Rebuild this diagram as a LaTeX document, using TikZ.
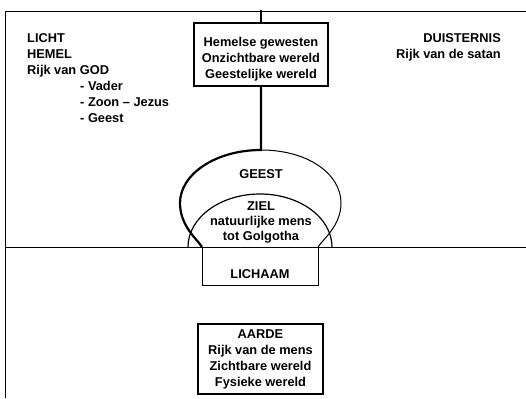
\documentclass[tikz,border=0pt]{standalone}
\usepackage{fontspec}
\setmainfont{Liberation Sans}
\usetikzlibrary{positioning}
\tikzstyle{every node}=[font=\fontsize{12.8}{16}\selectfont\bfseries,inner sep=0pt]

\begin{document}
\begin{tikzpicture}[x=1pt,y=-1pt]
\tikzset{dun/.style={line width=1pt},dik/.style={line width=2.2pt},
  kader/.style={draw,rectangle,align=center}}
\useasboundingbox (0,0) rectangle (526,398);

% rand en horizon
\draw[dun] (5,398) -- (5,12) -- (526,12);
\draw[dun] (5,247) -- (526,247);

% teksten links en rechts
\node[anchor=north west,align=left] (licht) at (27,33) {LICHT\\HEMEL\\Rijk van GOD};
\node[align=left,below right=4.3pt and 53pt of licht.south west] (drieeenheid)
  {- Vader\\- Zoon -- Jezus\\- Geest};
\node[anchor=north east,align=right] (duisternis) at (501,33) {DUISTERNIS\\Rijk van de satan};

% hemel
\node[kader,line width=1.8pt,minimum width=134pt,minimum height=63pt] (hemel) at (261,54.5)
  {\rule{0pt}{19pt}Hemelse gewesten\\Onzichtbare wereld\\Geestelijke wereld};
\coordinate (boven) at (261,10);
\coordinate (koepel) at (261,150);
\coordinate (zl) at (202,247);
\coordinate (zr) at (318,247);
\coordinate (lichaamzw) at (202,285);

\draw[dik] (boven) -- (hemel.north);
\draw[dik] (hemel.south) -- (koepel) .. controls (216,150) and (180,174) .. (180,203)
  .. controls (180,226) and (197,239) .. (zl);
\draw[dun] (koepel) .. controls (308,150) and (341,174) .. (341,203)
  .. controls (341,226) and (323,239) .. (zr);

% ziel
\draw[line width=1.2pt] (188,247) arc[start angle=180,end angle=360,x radius=72,y radius=53];
\node (geest) at (261,174) {GEEST};
\node[anchor=north,align=center,font=\fontsize{12.8}{15}\selectfont\bfseries] (ziel) at (261,201.5)
  {ZIEL\\natuurlijke mens\\tot Golgotha};

% lichaam
\draw[dun] (zl) -- (lichaamzw) -| (zr);
\node (lichaam) at (260,273.7) {LICHAAM};

% aarde
\node[kader,line width=1.2pt,minimum width=125pt,minimum height=70pt] (aarde) at (260.5,359)
  {AARDE\\Rijk van de mens\\Zichtbare wereld\\Fysieke wereld};
\end{tikzpicture}
\end{document}
